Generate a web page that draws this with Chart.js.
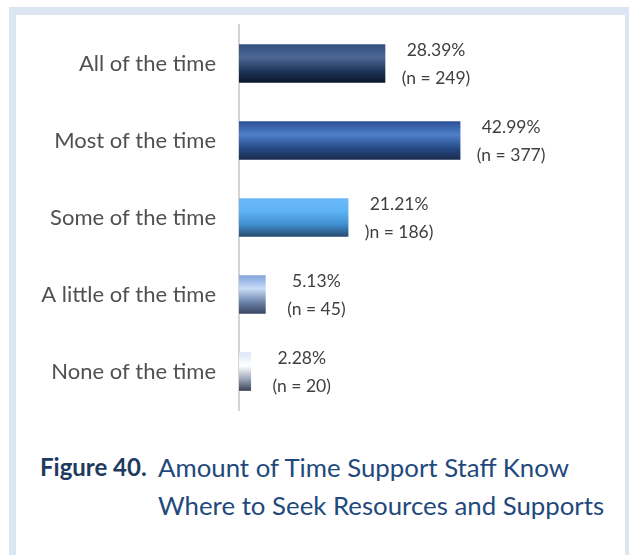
<!DOCTYPE html>
<html>
<head>
<meta charset="utf-8">
<script src="https://cdn.jsdelivr.net/npm/chart.js@4"></script>
<style>
  body { margin: 0; background: #fff; width: 629px; height: 555px; overflow: hidden; position: relative; }
  .frame { position: absolute; left: 9px; top: 7px; width: 609px; height: 560px;
           border-left: 7px solid #dce6f2; border-top: 8px solid #dce6f2; border-right: 4px solid #dce6f2; }
  #wrap { position: absolute; left: 0; top: 0; width: 629px; height: 430px; }
  .cap { position: absolute; left: 40px; top: 448px; display: flex; font-family: Lato, "Open Sans", sans-serif;
         font-size: 25.8px; line-height: 38px; color: #1f497d; }
  .cap b { color: #1f3a5f; width: 118px; font-size: 24px; }
</style>
</head>
<body>
<div class="frame"></div>
<div id="wrap"><canvas id="timeChart"></canvas></div>
<div class="cap"><b>Figure 40.</b><span>Amount of Time Support Staff Know<br>Where to Seek Resources and Supports</span></div>
<script>
const categories = ['All of the time', 'Most of the time', 'Some of the time', 'A little of the time', 'None of the time'];
const percents = [28.39, 42.99, 21.21, 5.13, 2.28];
const countLabels = ['(n = 249)', '(n = 377)', ')n = 186)', '(n = 45)', '(n = 20)'];

// vertical gradients, one per bar (top -> bottom)
const barShades = [
  ['#34507e', '#4d6894', '#1e3358', '#0c172b'],
  ['#2c5196', '#4f7fc8', '#264b88', '#1a2b4e'],
  ['#6cb8f6', '#5db3f4', '#3f8ccc', '#284b70'],
  ['#84a4dc', '#c9ddf8', '#6b82a9', '#394663'],
  ['#dbe7f8', '#ffffff', '#9ba6bb', '#3b4459']
];

function barGradient(ctx) {
  const chart = ctx.chart;
  const y = chart.scales.y;
  const s = barShades[ctx.dataIndex] || barShades[0];
  if (!y) return s[1];
  const c = y.getPixelForValue(ctx.dataIndex);
  if (!isFinite(c)) return s[1];
  const g = chart.ctx.createLinearGradient(0, c - 19, 0, c + 19);
  g.addColorStop(0, s[0]);
  g.addColorStop(0.35, s[1]);
  g.addColorStop(0.7, s[2]);
  g.addColorStop(1, s[3]);
  return g;
}

// two-line value labels to the right of each bar
const valueLabels = {
  id: 'valueLabels',
  afterDatasetsDraw(chart) {
    const ctx = chart.ctx;
    const meta = chart.getDatasetMeta(0);
    ctx.save();
    ctx.font = '17.5px Lato, "Open Sans", sans-serif';
    ctx.fillStyle = '#404040';
    ctx.textAlign = 'center';
    ctx.textBaseline = 'middle';
    meta.data.forEach((bar, i) => {
      const x = bar.x + 51;
      ctx.fillText(percents[i].toFixed(2) + '%', x, bar.y - 13);
      ctx.fillText(countLabels[i], x, bar.y + 15);
    });
    ctx.restore();
  }
};

new Chart(document.getElementById('timeChart'), {
  type: 'bar',
  data: {
    labels: categories,
    datasets: [{
      data: percents,
      backgroundColor: barGradient,
      barThickness: 38
    }]
  },
  options: {
    indexAxis: 'y',
    responsive: true,
    maintainAspectRatio: false,
    animation: false,
    layout: { padding: { top: 25, bottom: 20, right: 30, left: 0 } },
    plugins: { legend: { display: false }, tooltip: { enabled: false } },
    scales: {
      x: { display: false, min: 0, max: 70 },
      y: {
        grid: { display: false },
        border: { display: true, color: '#d4d4d4', width: 2 },
        ticks: { color: '#505050', padding: 15, font: { family: 'Lato, "Open Sans", sans-serif', size: 22 } },
        afterFit(scale) {
          scale.width = 239;
          scale.paddingTop = 0;
          scale.paddingBottom = 0;
        }
      }
    }
  },
  plugins: [valueLabels]
});
</script>
</body>
</html>
